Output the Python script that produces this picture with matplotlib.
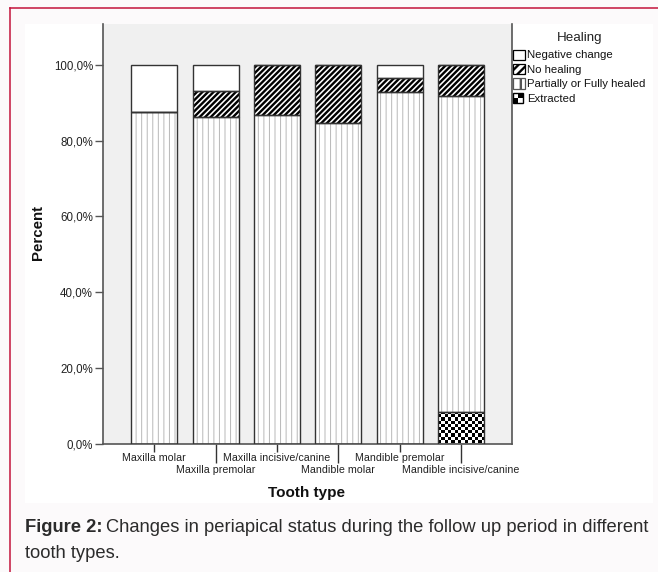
import numpy as np
import matplotlib
matplotlib.use("Agg")
import matplotlib.pyplot as plt
from matplotlib.patches import Rectangle, Patch
from matplotlib.lines import Line2D
from matplotlib.legend_handler import HandlerBase

categories = ["Maxilla molar", "Maxilla premolar", "Maxilla incisive/canine",
              "Mandible molar", "Mandible premolar", "Mandible incisive/canine"]
extracted = [0, 0, 0, 0, 0, 8.3]
healed = [87.5, 86.2, 86.7, 84.6, 92.9, 83.4]
no_healing = [0, 6.9, 13.3, 15.4, 3.6, 8.3]
negative = [12.5, 6.9, 0, 0, 3.5, 0]
yticks = [0, 20, 40, 60, 80, 100]
ytick_labels = ["0,0%", "20,0%", "40,0%", "60,0%", "80,0%", "100,0%"]
legend_labels = ["Negative change", "No healing", "Partially or Fully healed", "Extracted"]

plt.rcParams["font.family"] = ["Liberation Sans", "DejaVu Sans"]

W, H = 658, 572
fig = plt.figure(figsize=(W / 100, H / 100), dpi=100, facecolor="#fcfafb")


def fx(px):
    return px / W


def fy(py):
    return 1 - py / H


fig.patches.append(Rectangle((fx(25), fy(503)), (653 - 25) / W, (503 - 24) / H,
                             transform=fig.transFigure, facecolor="white",
                             edgecolor="none", zorder=-10))
red = "#c3143c"
fig.add_artist(Line2D([fx(9.5), fx(9.5)], [0, fy(7.5)], transform=fig.transFigure,
                      color=red, lw=1.1, zorder=-5))
fig.add_artist(Line2D([fx(9.5), 1], [fy(7.5), fy(7.5)], transform=fig.transFigure,
                      color=red, lw=1.1, zorder=-5))

ax = fig.add_axes([fx(103), fy(443.5), (512 - 103) / W, (443.5 - 24) / H])
ax.set_zorder(1)
ax.set_facecolor("#f0f0f0")

x = np.arange(len(categories))
w = 0.75
ext = np.array(extracted)
hea = np.array(healed)
noh = np.array(no_healing)
neg = np.array(negative)

XLIM = (-0.836, 5.83)
YLIM = (0, 110.8)
ax.set_xlim(*XLIM)
ax.set_ylim(*YLIM)


def set_hlw(bars, lw):
    for p in bars:
        if hasattr(p, "set_hatch_linewidth"):
            p.set_hatch_linewidth(lw)


edge = "#333333"
b_ext = ax.bar(x, ext, w, color="white", edgecolor="none", lw=0, zorder=2)

plt.rcParams["hatch.linewidth"] = 0.7
b_hea = ax.bar(x, hea, w, bottom=ext, facecolor="white", edgecolor="#b8b8b8",
               hatch="|||", lw=0, zorder=2)
set_hlw(b_hea, 0.7)
plt.rcParams["hatch.linewidth"] = 1.7
b_noh = ax.bar(x, noh, w, bottom=ext + hea, facecolor="white", edgecolor="black",
               hatch="//////", lw=0, zorder=2)
set_hlw(b_noh, 1.7)
b_neg = ax.bar(x, neg, w, bottom=ext + hea + noh, facecolor="white",
               edgecolor="none", lw=0, zorder=2)

# checkerboard for extracted
fig.canvas.draw()
for p in b_ext:
    if p.get_height() <= 0:
        continue
    x0, y0 = p.get_x(), p.get_y()
    x1, y1 = x0 + p.get_width(), y0 + p.get_height()
    (px0, py0), (px1, py1) = ax.transData.transform([(x0, y0), (x1, y1)])
    cols = max(1, int(round(abs(px1 - px0) / 3.2)))
    rows = max(1, int(round(abs(py1 - py0) / 3.2)))
    checker = np.indices((rows, cols)).sum(axis=0) % 2
    im = ax.imshow(checker, extent=(x0, x1, y0, y1), cmap="gray",
                   interpolation="nearest", aspect="auto", zorder=2.5, origin="lower")
    im.set_clip_path(p)

# outlines
for vals, bot in [(ext, 0), (hea, ext), (noh, ext + hea), (neg, ext + hea + noh)]:
    ax.bar(x, vals, w, bottom=bot, fill=False, edgecolor=edge, lw=1.0, zorder=3)

ax.set_xlim(*XLIM)
ax.set_ylim(*YLIM)

for s in ax.spines.values():
    s.set_color("#555555")
    s.set_linewidth(1.2)
ax.spines["top"].set_visible(False)

ax.set_yticks(yticks)
ax.set_yticklabels(ytick_labels)
ax.tick_params(axis="y", length=5.5, pad=1.7, labelsize=8.3, width=1.0,
               color="#555555", labelcolor="#222222")

ax.set_xticks(x[0::2])
ax.set_xticklabels(categories[0::2])
ax.set_xticks(x[1::2], minor=True)
ax.set_xticklabels(categories[1::2], minor=True)
ax.tick_params(axis="x", which="major", length=5.8, pad=1.0, labelsize=7.7,
               width=1.0, color="#333333", labelcolor="#222222")
ax.tick_params(axis="x", which="minor", length=13.7, pad=1.8, labelsize=7.7,
               width=1.0, color="#333333", labelcolor="#222222")

fig.text(fx(38), fy(232), "Percent", rotation=90, ha="center", va="center",
         fontsize=10.8, fontweight="bold", color="#111111")
fig.text(fx(307), fy(493), "Tooth type", ha="center", va="center",
         fontsize=11, fontweight="bold", color="#111111")


class CheckerHandler(HandlerBase):
    def create_artists(self, legend, orig_handle, xdescent, ydescent, width,
                       height, fontsize, trans):
        s = min(width, height)
        x0 = -xdescent
        y0 = -ydescent + (height - s) / 2
        arts = []
        half = s / 2
        colors = [["black", "white"], ["white", "black"]]
        for i in range(2):
            for j in range(2):
                arts.append(Rectangle((x0 + j * half, y0 + i * half), half, half,
                                      facecolor=colors[i][j], edgecolor="none",
                                      transform=trans))
        arts.append(Rectangle((x0, y0), s, s, facecolor="none", edgecolor="black",
                              lw=1.0, transform=trans))
        return arts


class CheckerPatch(Patch):
    pass


handles = [
    Patch(facecolor="white", edgecolor="black", lw=0.9),
    Patch(facecolor="white", edgecolor="black", hatch="////", lw=0.9),
    Patch(facecolor="white", edgecolor="#555555", hatch="||", lw=0.9),
    CheckerPatch(facecolor="white", edgecolor="black"),
]
fig.text(fx(580), fy(37.5), "Healing", ha="center", va="center", fontsize=9.6,
         color="#222222")
leg = fig.legend(handles, legend_labels, loc="upper left",
                 bbox_to_anchor=(fx(513), fy(49.5)), frameon=False, fontsize=8.2,
                 handlelength=1.05, handleheight=1.0,
                 handletextpad=0.15, labelspacing=0.3, borderpad=0,
                 borderaxespad=0, handler_map={CheckerPatch: CheckerHandler()})
for t in leg.get_texts():
    t.set_color("#111111")

# caption
cap_color = "#2b2b2b"
line1 = "Changes in periapical status during the follow up period in different"
fs = 11.5
renderer = fig.canvas.get_renderer()
t1 = fig.text(fx(25), fy(527), "Figure 2:", fontsize=fs, fontweight="bold",
              color=cap_color, va="center", ha="left")
bb1 = t1.get_window_extent(renderer)
t2 = fig.text(bb1.x1 / (W) + 4 / W, fy(527), line1, fontsize=fs, color=cap_color,
              va="center", ha="left")
bb2 = t2.get_window_extent(renderer)
target = 652 - 25
total = bb2.x1 - bb1.x0
scale = target / total
fs2 = fs * scale
t1.set_fontsize(fs2)
t2.set_fontsize(fs2)
bb1 = t1.get_window_extent(renderer)
t2.set_x(bb1.x1 / W + 4 / W)
fig.text(fx(25), fy(553), "tooth types.", fontsize=fs2, color=cap_color,
         va="center", ha="left")

fig.savefig("out.png", dpi=100, facecolor=fig.get_facecolor())
